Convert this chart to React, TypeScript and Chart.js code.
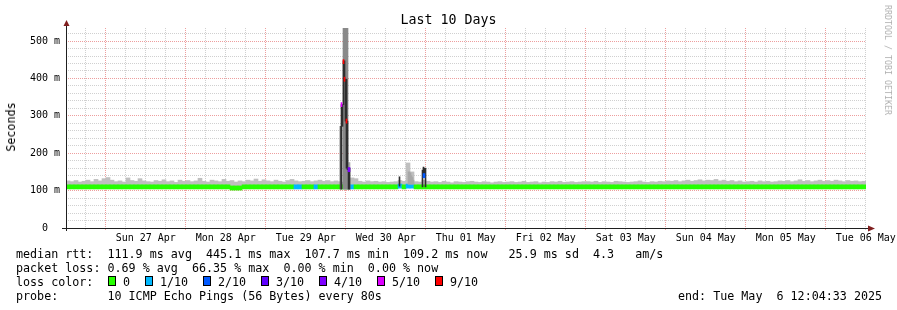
import { useEffect, useRef } from "react";
import { Chart, registerables } from "chart.js";

Chart.register(...registerables);

// ---------- data ----------
const dayLabels = [
  "Sun 27 Apr", "Mon 28 Apr", "Tue 29 Apr", "Wed 30 Apr", "Thu 01 May",
  "Fri 02 May", "Sat 03 May", "Sun 04 May", "Mon 05 May", "Tue 06 May",
];

// one sample every 1.2 h over the 10 days (ms)
const smokeMax = [
  126, 124, 127, 123, 125, 128, 124, 130, 126, 132,
  135, 128, 124, 126, 123, 134, 127, 125, 132, 126, 124, 123, 127, 125, 129, 124, 126, 122, 128, 125,
  127, 124, 126, 133, 125, 123, 128, 126, 124, 130, 125, 127, 123, 126, 124, 128, 126, 131, 125, 129,
  126, 124, 128, 125, 123, 127, 130, 126, 124, 125, 127, 124, 126, 128, 125, 127, 124, 126, 124, 122,
  127, 134, 132, 125, 123, 126, 124, 125, 123, 124, 122, 123, 124, 127, 125, 174, 150, 124, 123, 128,
  125, 123, 124, 122, 125, 123, 121, 124, 123, 122, 124, 125, 123, 122, 124, 123, 121, 123, 124, 122,
  123, 124, 122, 123, 125, 122, 123, 124, 121, 123, 122, 124, 123, 125, 122, 123, 124, 122, 123, 124,
  124, 123, 125, 122, 124, 123, 122, 125, 124, 123, 122, 123, 124, 126, 123, 122, 124, 123, 125, 124,
  126, 125, 127, 124, 126, 128, 125, 127, 129, 126, 128, 127, 130, 126, 128, 125, 127, 124, 126, 123,
  124, 125, 123, 126, 124, 125, 123, 124, 126, 125, 127, 124, 126, 129, 125, 127, 124, 126, 128, 125,
  127, 125, 128, 126, 124, 127, 125, 126, 124, 125,
];

const medianRtt = [
  110, 110, 110, 110, 110, 110, 110, 110, 110, 110,
  110, 110, 110, 110, 110, 110, 110, 110, 110, 110, 110, 110, 110, 110, 110, 110, 110, 110, 110, 110,
  110, 110, 110, 110, 110, 110, 110, 110, 110, 110, 110, 107, 107, 107, 110, 110, 110, 110, 110, 110,
  110, 110, 110, 110, 110, 110, 110, 110, 110, 110, 110, 110, 110, 110, 110, 110, 110, 110, 110, 110,
  110, 110, 110, 110, 110, 110, 110, 110, 110, 110, 110, 110, 110, 112, 110, 112, 112, 110, 110, 110,
  110, 110, 110, 110, 110, 110, 110, 110, 110, 110, 110, 110, 110, 110, 110, 110, 110, 110, 110, 110,
  110, 110, 110, 110, 110, 110, 110, 110, 110, 110, 110, 110, 110, 110, 110, 110, 110, 110, 110, 110,
  110, 110, 110, 110, 110, 110, 110, 110, 110, 110, 110, 110, 110, 110, 110, 110, 110, 110, 110, 110,
  110, 110, 110, 110, 110, 110, 110, 110, 110, 110, 110, 110, 110, 110, 110, 110, 110, 110, 110, 110,
  110, 110, 110, 110, 110, 110, 110, 110, 110, 110, 110, 110, 110, 110, 110, 110, 110, 110, 110, 110,
  110, 110, 110, 110, 110, 110, 110, 110, 110, 110,
];

// lost pings out of 10
const lossTenths = [
  0, 0, 0, 0, 0, 0, 0, 0, 0, 0,
  0, 0, 0, 0, 0, 0, 0, 0, 0, 0, 0, 0, 0, 0, 0, 0, 0, 0, 0, 0,
  0, 0, 0, 0, 0, 0, 0, 0, 0, 0, 0, 0, 0, 0, 0, 0, 0, 0, 0, 0,
  0, 0, 0, 0, 0, 0, 0, 1, 1, 0, 0, 0, 1, 0, 0, 0, 0, 0, 0, 0,
  0, 1, 0, 0, 0, 0, 0, 0, 0, 0, 0, 0, 0, 1, 0, 1, 1, 0, 0, 0,
  0, 0, 0, 0, 0, 0, 0, 0, 0, 0, 0, 0, 0, 0, 0, 0, 0, 0, 0, 0,
  0, 0, 0, 0, 0, 0, 0, 0, 0, 0, 0, 0, 0, 0, 0, 0, 0, 0, 0, 0,
  0, 0, 0, 0, 0, 0, 0, 0, 0, 0, 0, 0, 0, 0, 0, 0, 0, 0, 0, 0,
  0, 0, 0, 0, 0, 0, 0, 0, 0, 0, 0, 0, 0, 0, 0, 0, 0, 0, 0, 0,
  0, 0, 0, 0, 0, 0, 0, 0, 0, 0, 0, 0, 0, 0, 0, 0, 0, 0, 0, 0,
  0, 0, 0, 0, 0, 0, 0, 0, 0, 0,
];

// fine-grained samples around the events of 29/30 Apr (hours after start)
const detailHours = [
  82.35, 82.65, 82.95, 83.25, 83.55, 83.85, 84.15, 84.45, 84.75, 85.05,
  100.05, 102.75, 103.05, 103.35, 103.65, 103.95, 104.25,
  106.95, 107.25, 107.55, 107.85,
];
const detailMidLo = [
  104, null, null, 104, 104, 104, 104, 104, 104, 104,
  null, 117, 117, 117, 117, 117, 117,
  null, null, null, null,
];
const detailMidHi = [
  272, null, null, 535, 535, 535, 535, 535, 175, 175,
  null, 150, 150, 147, 140, 135, 128,
  null, null, null, null,
];
const detailDarkLo = [
  null, 104, 272, 330, 398, 286, 160, 156, 104, 104,
  112, null, null, null, null, null, null,
  110, 135, 135, 110,
];
const detailDarkHi = [
  null, 330, 330, 447, 447, 398, 398, 286, 160, 160,
  137, null, null, null, null, null, null,
  155, 163, 160, 160,
];
const detailMedian = [
  null, 330, null, 445, 398, null, 286, null, 156, 156,
  null, null, null, null, null, null, null,
  null, 140, 140, null,
];
const detailLoss = [
  0, 5, 0, 9, 9, 0, 9, 0, 4, 4,
  0, 0, 0, 0, 0, 0, 0,
  0, 2, 2, 0,
];

const lossLabels = ["0", "1/10", "2/10", "3/10", "4/10", "5/10", "9/10"];
const lossColors = ["#26ff00", "#00b8ff", "#0059ff", "#5e00ff", "#7e00ff", "#dd00ff", "#ff0000"];

const titleText = "Last 10 Days";
const yTitle = "Seconds";
const watermark = "RRDTOOL / TOBI OETIKER";
const statRows = [
  "median rtt:  111.9 ms avg  445.1 ms max  107.7 ms min  109.2 ms now   25.9 ms sd  4.3   am/s",
  "packet loss: 0.69 % avg  66.35 % max  0.00 % min  0.00 % now",
];
const lossRowLabel = "loss color:";
const probeRow = "probe:       10 ICMP Echo Pings (56 Bytes) every 80s";
const endRow = "end: Tue May  6 12:04:33 2025";

// ---------- style ----------
const MONO = '"DejaVu Sans Mono", monospace';
const MINOR = "rgba(143,143,143,0.42)";
const MAJOR = "rgba(222,79,79,0.55)";
const SMOKE_LIGHT = "#bfbfbf";
const SMOKE_DARK = "#2e2e2e";
const BAND = 5.5;
const FIRST_GRID_HOUR = 5 + 55 / 60 + 27 / 3600; // 26 Apr 18:00 after 12:04:33 start

function lossColor(t: number) {
  const b = t <= 4 ? t : t < 9 ? 5 : 6;
  return lossColors[b];
}

const axesPlugin = {
  id: "rrdAxes",
  afterDatasetsDraw(chart: any) {
    const { ctx, chartArea: a } = chart;
    const x0 = a.left + 0.5;
    const y0 = a.bottom + 0.5;
    ctx.save();
    ctx.strokeStyle = "rgb(31,31,31)";
    ctx.lineWidth = 1;
    ctx.beginPath();
    ctx.moveTo(x0, a.bottom + 3);
    ctx.lineTo(x0, a.top - 3);
    ctx.moveTo(a.left - 4, y0);
    ctx.lineTo(a.right + 3, y0);
    ctx.stroke();
    ctx.fillStyle = "rgb(128,31,31)";
    ctx.beginPath();
    ctx.moveTo(x0 - 3, a.top - 2);
    ctx.lineTo(x0 + 3, a.top - 2);
    ctx.lineTo(x0, a.top - 8);
    ctx.closePath();
    ctx.fill();
    ctx.beginPath();
    ctx.moveTo(a.right + 2, y0 - 3);
    ctx.lineTo(a.right + 2, y0 + 3);
    ctx.lineTo(a.right + 9, y0);
    ctx.closePath();
    ctx.fill();
    ctx.restore();
  },
};

export default function App() {
  const canvasRef = useRef<HTMLCanvasElement | null>(null);

  useEffect(() => {
    const canvas = canvasRef.current;
    if (!canvas) return;

    const slotHours = smokeMax.map((_, i) => 1.2 * i + 0.6);
    const smokeData = slotHours.map((h, i) => ({ x: h, y: [medianRtt[i], smokeMax[i]] }));
    const bandData = slotHours.map((h, i) => ({ x: h, y: [medianRtt[i] - BAND, medianRtt[i] + BAND] }));
    const bandColors = lossTenths.map(lossColor);

    const midPts: any[] = [];
    const darkPts: any[] = [];
    const dBand: any[] = [];
    const dBandColors: string[] = [];
    detailHours.forEach((h, i) => {
      const mlo = detailMidLo[i];
      const mhi = detailMidHi[i];
      if (mlo != null && mhi != null) midPts.push({ x: h, y: [mlo, mhi] });
      const lo = detailDarkLo[i];
      const hi = detailDarkHi[i];
      if (lo != null && hi != null) darkPts.push({ x: h, y: [lo, hi] });
      const md = detailMedian[i];
      if (md != null) {
        dBand.push({ x: h, y: [md - BAND, md + BAND] });
        dBandColors.push(lossColor(detailLoss[i]));
      }
    });

    const datasets: any[] = [
      { data: smokeData, backgroundColor: SMOKE_LIGHT, order: 6 },
      { data: bandData, backgroundColor: bandColors, order: 5 },
      {
        data: midPts,
        backgroundColor: (c: any) => {
          const top = c.raw ? c.raw.y[1] : 0;
          return top > 400 ? "#8a8a8a" : top > 200 ? "#555555" : "#a8a8a8";
        },
        order: 4,
        barThickness: 1,
      },
      { data: darkPts, backgroundColor: SMOKE_DARK, order: 3, barThickness: 1 },
      { data: dBand, backgroundColor: dBandColors, order: 2, barThickness: 1 },
    ].map((d) => ({ grouped: false, borderWidth: 0, barThickness: 4, ...d }));

    const chart = new Chart(canvas, {
      type: "bar",
      data: { datasets },
      options: {
        responsive: false,
        animation: false,
        layout: { padding: { top: 28, right: 31, left: 0, bottom: 0 } },
        plugins: { legend: { display: false }, tooltip: { enabled: false }, title: { display: false } },
        scales: {
          x: {
            type: "linear",
            min: 0,
            max: 240,
            offset: false,
            afterBuildTicks: (s: any) => {
              s.ticks = Array.from({ length: 40 }, (_, k) => ({ value: FIRST_GRID_HOUR + 6 * k }));
            },
            afterFit: (s: any) => {
              s.height = 82;
              s.paddingLeft = 0;
              s.paddingRight = 0;
            },
            grid: {
              offset: false,
              color: (c: any) => (c.index % 4 === 1 ? MAJOR : MINOR),
              lineWidth: 1,
              drawTicks: true,
              tickLength: 2,
            },
            border: { display: false, dash: [1, 1] },
            ticks: {
              autoSkip: false,
              maxRotation: 0,
              minRotation: 0,
              padding: 2,
              color: "#000",
              font: { family: MONO, size: 10 },
              callback: (_v: any, k: number) => (k % 4 === 3 ? dayLabels[(k - 3) / 4] : ""),
            },
          },
          y: {
            type: "linear",
            min: 0,
            max: 535,
            afterBuildTicks: (s: any) => {
              s.ticks = Array.from({ length: 27 }, (_, k) => ({ value: 20 * k }));
            },
            afterFit: (s: any) => {
              s.width = 66;
              s.paddingTop = 0;
              s.paddingBottom = 0;
            },
            grid: {
              color: (c: any) => (c.tick && c.tick.value % 100 === 0 ? MAJOR : MINOR),
              lineWidth: 1,
              drawTicks: false,
            },
            border: { display: false, dash: [1, 1] },
            ticks: {
              autoSkip: false,
              padding: 6,
              color: "#000",
              font: { family: MONO, size: 10 },
              callback: (v: any) => (v % 100 === 0 ? (v === 0 ? "0  " : `${v} m`) : ""),
            },
          },
        },
      } as any,
      plugins: [axesPlugin],
    });

    return () => chart.destroy();
  }, []);

  const boxX = [108, 145, 203, 261, 319, 377, 435];
  const rowTop = (r: number) => 247 + 14 * r;
  const textStyle: any = {
    position: "absolute",
    fontFamily: MONO,
    fontSize: "11.7px",
    lineHeight: "14px",
    whiteSpace: "pre",
    color: "#000",
  };

  return (
    <div
      style={{
        position: "absolute",
        left: 0,
        top: 0,
        width: 897,
        height: 310,
        background: "#ffffff",
        overflow: "hidden",
      }}
    >
      <canvas
        ref={canvasRef}
        width={897}
        height={310}
        style={{ position: "absolute", left: 0, top: 0, width: 897, height: 310, display: "block" }}
      />
      <div
        style={{
          ...textStyle,
          left: 0,
          top: 12,
          width: 897,
          textAlign: "center",
          fontSize: "13.3px",
          lineHeight: "16px",
        }}
      >
        {titleText}
      </div>
      <div
        style={{
          ...textStyle,
          left: 11,
          top: 127,
          transform: "translate(-50%, -50%) rotate(-90deg)",
        }}
      >
        {yTitle}
      </div>
      <div
        style={{
          ...textStyle,
          left: 888,
          top: 60,
          fontSize: "8.3px",
          lineHeight: "10px",
          color: "rgba(0,0,0,0.33)",
          transform: "translate(-50%, -50%) rotate(90deg)",
        }}
      >
        {watermark}
      </div>
      {statRows.map((t, r) => (
        <div key={r} style={{ ...textStyle, left: 16, top: rowTop(r) }}>
          {t}
        </div>
      ))}
      <div style={{ ...textStyle, left: 16, top: rowTop(2) }}>{lossRowLabel}</div>
      {lossLabels.map((lab, i) => (
        <div key={lab}>
          <div
            style={{
              position: "absolute",
              left: boxX[i],
              top: 276,
              width: 8,
              height: 10,
              boxSizing: "border-box",
              border: "1px solid #000",
              background: lossColors[i],
            }}
          />
          <div style={{ ...textStyle, left: boxX[i] + 15, top: rowTop(2) }}>{lab}</div>
        </div>
      ))}
      <div style={{ ...textStyle, left: 16, top: rowTop(3) }}>{probeRow}</div>
      <div style={{ ...textStyle, left: 678, top: rowTop(3) }}>{endRow}</div>
    </div>
  );
}
